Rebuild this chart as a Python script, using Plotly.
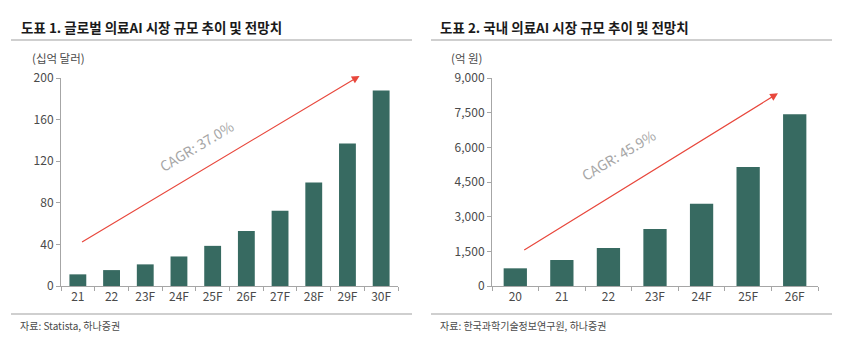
import plotly.graph_objects as go

# ---- data ----
cats_global = ["21", "22", "23F", "24F", "25F", "26F", "27F", "28F", "29F", "30F"]
vals_global = [11.2, 15.3, 20.8, 28.4, 38.6, 52.9, 72.4, 99.5, 137, 188]
cats_korea = ["20", "21", "22", "23F", "24F", "25F", "26F"]
vals_korea = [765, 1124, 1643, 2465, 3560, 5150, 7430]
ticks_global = [0, 40, 80, 120, 160, 200]
ticks_korea = [0, 1500, 3000, 4500, 6000, 7500, 9000]

title1 = "도표 1. 글로벌 의료AI 시장 규모 추이 및 전망치"
title2 = "도표 2. 국내 의료AI 시장 규모 추이 및 전망치"
unit1 = "(십억 달러)"
unit2 = "(억 원)"
src1 = "자료: Statista, 하나증권"
src2 = "자료: 한국과학기술정보연구원, 하나증권"
cagr1 = "CAGR: 37.0%"
cagr2 = "CAGR: 45.9%"

W, H = 850, 356
BAR = "#376a61"
FONT = "Noto Sans CJK KR, Malgun Gothic, sans-serif"
AX = "#a6a6a6"
TXT = "#4a4a4a"

def px(x):
    return x / W

def py(y):
    return 1 - y / H

fig = go.Figure()
fig.add_trace(go.Bar(x=cats_global, y=vals_global, marker=dict(color=BAR, line=dict(width=0)),
                     width=0.5, xaxis="x", yaxis="y", showlegend=False, hoverinfo="x+y"))
fig.add_trace(go.Bar(x=cats_korea, y=vals_korea, marker=dict(color=BAR, line=dict(width=0)),
                     width=0.5, xaxis="x2", yaxis="y2", showlegend=False, hoverinfo="x+y"))

ydom = [py(286), py(78)]
common_x = dict(showline=True, linecolor=AX, linewidth=1, ticks="outside", tickson="boundaries",
                ticklen=4, tickcolor=AX, showgrid=False, automargin=False,
                tickfont=dict(size=12, color=TXT, family=FONT), fixedrange=True)
common_y = dict(showline=True, linecolor=AX, linewidth=1, ticks="outside", ticklen=4, tickcolor=AX,
                showgrid=False, zeroline=False, automargin=False,
                tickfont=dict(size=12, color=TXT, family=FONT), fixedrange=True)

fig.update_layout(
    width=W, height=H,
    margin=dict(l=0, r=0, t=0, b=0, pad=0, autoexpand=False),
    paper_bgcolor="white", plot_bgcolor="white",
    font=dict(family=FONT, color=TXT),
    xaxis=dict(domain=[px(61), px(398)], anchor="y", range=[-0.5, len(cats_global) - 0.5], **common_x),
    yaxis=dict(domain=ydom, anchor="x", range=[0, 200], tickvals=ticks_global, **common_y),
    xaxis2=dict(domain=[px(492), px(818)], anchor="y2", range=[-0.5, len(cats_korea) - 0.5], **common_x),
    yaxis2=dict(domain=ydom, anchor="x2", range=[0, 9000], tickvals=ticks_korea, tickformat=",", **common_y),
    bargap=0.5,
)

ann = []
shapes = []
# titles
ann.append(dict(text=f"<b>{title1}</b>", x=px(19), y=py(27), xref="paper", yref="paper",
                xanchor="left", yanchor="middle", showarrow=False, font=dict(size=13.5, color="#1a1a1a", family=FONT)))
ann.append(dict(text=f"<b>{title2}</b>", x=px(438), y=py(27), xref="paper", yref="paper",
                xanchor="left", yanchor="middle", showarrow=False, font=dict(size=13.5, color="#1a1a1a", family=FONT)))
# units
ann.append(dict(text=unit1, x=px(30), y=py(58), xref="paper", yref="paper", xanchor="left", yanchor="middle",
                showarrow=False, font=dict(size=11.5, color=TXT, family=FONT)))
ann.append(dict(text=unit2, x=px(449), y=py(58), xref="paper", yref="paper", xanchor="left", yanchor="middle",
                showarrow=False, font=dict(size=11.5, color=TXT, family=FONT)))
# sources
ann.append(dict(text=src1, x=px(18), y=py(325), xref="paper", yref="paper", xanchor="left", yanchor="middle",
                showarrow=False, font=dict(size=10, color=TXT, family=FONT)))
ann.append(dict(text=src2, x=px(438), y=py(325), xref="paper", yref="paper", xanchor="left", yanchor="middle",
                showarrow=False, font=dict(size=10, color=TXT, family=FONT)))
# arrows
ann.append(dict(x=8.36, y=202, ax=0.08, ay=41.4, xref="x", yref="y", axref="x", ayref="y",
                showarrow=True, arrowhead=2, arrowsize=1.3, arrowwidth=1.2, arrowcolor="#e8473c", text=""))
ann.append(dict(x=5.64, y=8338, ax=0.16, ay=1514, xref="x2", yref="y2", axref="x2", ayref="y2",
                showarrow=True, arrowhead=2, arrowsize=1.3, arrowwidth=1.2, arrowcolor="#e8473c", text=""))
# CAGR labels
ann.append(dict(text=cagr1, x=px(196), y=py(146), xref="paper", yref="paper", showarrow=False,
                xanchor="center", yanchor="middle",
                textangle=-31, font=dict(size=14, color="#a6a6a6", family=FONT)))
ann.append(dict(text=cagr2, x=px(618), y=py(155), xref="paper", yref="paper", showarrow=False,
                xanchor="center", yanchor="middle",
                textangle=-31, font=dict(size=14, color="#a6a6a6", family=FONT)))

for x0, x1 in [(11, 412), (431, 832)]:
    for yy in (40, 314):
        shapes.append(dict(type="line", xref="paper", yref="paper", x0=px(x0), x1=px(x1), y0=py(yy), y1=py(yy),
                           line=dict(color="#bfbfbf", width=1.5)))

fig.update_layout(annotations=ann, shapes=shapes)
fig.write_html("out.html", config={"displayModeBar": False},
               post_script="document.body.style.margin='0';document.body.style.overflow='hidden';")
